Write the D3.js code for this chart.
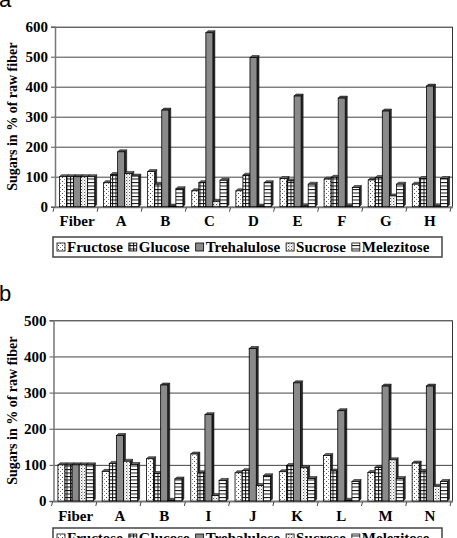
<!DOCTYPE html>
<html><head><meta charset="utf-8">
<script src="https://cdn.jsdelivr.net/npm/d3@7"></script>
<style>
html,body{margin:0;padding:0;background:#fff;}
svg{display:block;}
text{font-family:"Liberation Serif","Times New Roman",serif;font-weight:bold;fill:#000;}
</style></head>
<body>
<svg id="c" width="457" height="538"></svg>
<script>
const series = ["Fructose","Glucose","Trehalulose","Sucrose","Melezitose"];

const categoriesA = ["Fiber","A","B","C","D","E","F","G","H"];
const fructoseA    = [100, 80, 117,  53,  53,  94,  92,  89,  75];
const glucoseA     = [100,107,  75,  80, 105,  86,  98,  97,  94];
const trehaluloseA = [100,183, 322, 580, 497, 369, 362, 319, 402];
const sucroseA     = [100,111,   2,  18,   2,   3,   3,  36,   3];
const melezitoseA  = [100,102,  60,  88,  80,  75,  64,  75,  94];
const ticksA = [0,100,200,300,400,500,600];

const categoriesB = ["Fiber","A","B","I","J","K","L","M","N"];
const fructoseB    = [100, 82, 117, 130,  78,  81, 126,  79, 105];
const glucoseB     = [100,104,  76,  78,  84,  98,  83,  93,  82];
const trehaluloseB = [100,181, 321, 239, 422, 327, 250, 318, 318];
const sucroseB     = [100,110,   2,  15,  43,  92,   2, 114,  41];
const melezitoseB  = [100,101,  61,  57,  70,  62,  54,  62,  54];
const ticksB = [0,100,200,300,400,500];

const svg = d3.select("#c");
const defs = svg.append("defs");

// patterns
function pat(id,w,h,draw){
  const p = defs.append("pattern").attr("id",id).attr("patternUnits","userSpaceOnUse")
    .attr("width",w).attr("height",h);
  p.append("rect").attr("width",w).attr("height",h).attr("fill","#fff");
  draw(p);
}
pat("pFru",4,4,p=>{
  p.append("rect").attr("x",2).attr("y",1).attr("width",1).attr("height",1).attr("fill","#444");
  p.append("rect").attr("x",0).attr("y",3).attr("width",1).attr("height",1).attr("fill","#888");
});
pat("pGlu",3.5,3.5,p=>{
  p.append("rect").attr("x",0).attr("y",0).attr("width",3.5).attr("height",1).attr("fill","#111");
  p.append("rect").attr("x",0).attr("y",0).attr("width",1).attr("height",3.5).attr("fill","#111");
});
defs.append("pattern").attr("id","pTre").attr("patternUnits","userSpaceOnUse").attr("width",4).attr("height",4)
  .append("rect").attr("width",4).attr("height",4).attr("fill","#8a8a8a");
pat("pSuc",3,3,p=>{
  p.append("rect").attr("x",0).attr("y",0).attr("width",1).attr("height",1).attr("fill","#555");
  p.append("rect").attr("x",1.5).attr("y",1.5).attr("width",1).attr("height",1).attr("fill","#aaa");
  p.append("rect").attr("x",1).attr("y",0).attr("width",0.6).attr("height",3).attr("fill","#ccc");
});
pat("pMel",3,3.5,p=>{
  p.append("rect").attr("x",0).attr("y",0).attr("width",3).attr("height",1).attr("fill","#111");
});
const fills = ["url(#pFru)","url(#pGlu)","url(#pTre)","url(#pSuc)","url(#pMel)"];

function panel(cfg){
  const {cats, vals, ticks, left, right, top, zero, ymax, labelY, legendTop} = cfg;
  const g = svg.append("g");
  const y = d3.scaleLinear().domain([0,ymax]).range([zero, top]);
  const x = d3.scaleBand().domain(cats).range([left,right]).paddingInner(0.2).paddingOuter(0.1);
  const xs = d3.scaleBand().domain(series).range([0,x.bandwidth()]);
  const d = 2;

  // gridlines
  g.selectAll(".grid").data(ticks.filter(t=>t>0)).join("line")
    .attr("x1",left).attr("x2",right)
    .attr("y1",t=>y(t)+0.5).attr("y2",t=>y(t)+0.5)
    .attr("stroke",t=>t===ymax?"#222":"#444").attr("stroke-width",1);
  // right border
  g.append("line").attr("x1",right+0.5).attr("x2",right+0.5).attr("y1",y(ymax)).attr("y2",zero)
    .attr("stroke","#333").attr("stroke-width",1);

  // left axis
  const ax = g.append("g").attr("transform",`translate(${left},0)`)
    .call(d3.axisLeft(y).tickValues(ticks).tickSize(4).tickPadding(3).tickFormat(d3.format("d")));
  ax.select(".domain").attr("stroke","#777").attr("stroke-width",1.5);
  ax.selectAll(".tick line").attr("stroke","#555");
  ax.selectAll("text").style("font-size","15px").attr("fill","#000")
    .style("font-family",'"Liberation Serif",serif').style("font-weight","bold");

  // floor
  g.append("line").attr("x1",left).attr("x2",right+1).attr("y1",zero+0.5).attr("y2",zero+0.5)
    .attr("stroke","#777").attr("stroke-width",2);
  const step = x.step();
  g.selectAll(".xt").data(d3.range(cats.length+1)).join("line")
    .attr("x1",i=>left+i*step-1).attr("x2",i=>left+i*step-2)
    .attr("y1",zero+1).attr("y2",zero+5).attr("stroke","#444").attr("stroke-width",1);

  // bars
  const bars = [];
  cats.forEach((c,ci)=>{
    series.forEach((s,si)=>{
      bars.push({c, s, si, v: vals[si][ci]});
    });
  });
  const bg = g.append("g");
  bars.forEach(b=>{
    const x0 = x(b.c)+xs(b.s), w = xs.bandwidth(), yt = y(b.v), yb = zero;
    // side face
    bg.append("path")
      .attr("d",`M${x0+w},${yt}L${x0+w+d},${yt-d}L${x0+w+d},${yb-d}L${x0+w},${yb}Z`)
      .attr("fill","#2a2a2a").attr("stroke","#000").attr("stroke-width",0.5);
    // top face
    bg.append("path")
      .attr("d",`M${x0},${yt}L${x0+d},${yt-d}L${x0+w+d},${yt-d}L${x0+w},${yt}Z`)
      .attr("fill",b.si===2?"#555":"#666").attr("stroke","#000").attr("stroke-width",0.5);
    // front
    bg.append("rect").attr("x",x0).attr("y",yt).attr("width",w).attr("height",Math.max(0,yb-yt))
      .attr("fill",fills[b.si]).attr("stroke","#000").attr("stroke-width",0.8);
  });

  // category labels
  g.selectAll(".cl").data(cats).join("text")
    .attr("x",c=>x(c)+x.bandwidth()/2).attr("y",labelY)
    .attr("text-anchor","middle").style("font-size","15px").text(c=>c);

  // y title
  g.append("text").attr("transform",`translate(17,${(top+zero)/2}) rotate(-90)`)
    .attr("text-anchor","middle").style("font-size","14px").text("Sugars in % of raw fiber");

  // legend
  const lg = g.append("g");
  lg.append("rect").attr("x",53).attr("y",legendTop).attr("width",389).attr("height",20)
    .attr("fill","#fff").attr("stroke","#444").attr("stroke-width",1.5);
  let cx = 57;
  series.forEach((s,si)=>{
    lg.append("rect").attr("x",cx).attr("y",legendTop+6).attr("width",8).attr("height",8)
      .attr("fill",fills[si]).attr("stroke","#000").attr("stroke-width",0.8);
    const t = lg.append("text").attr("x",cx+10).attr("y",legendTop+15).style("font-size","15px").text(s);
    cx = cx + 10 + t.node().getComputedTextLength() + 6;
  });
}

panel({cats:categoriesA, vals:[fructoseA,glucoseA,trehaluloseA,sucroseA,melezitoseA], ticks:ticksA,
  left:55, right:452, top:26.7, zero:206.7, ymax:600, labelY:226, legendTop:237});
panel({cats:categoriesB, vals:[fructoseB,glucoseB,trehaluloseB,sucroseB,melezitoseB], ticks:ticksB,
  left:53.5, right:452, top:320.3, zero:501, ymax:500, labelY:521, legendTop:528});

// panel letters
svg.append("text").attr("x",-1).attr("y",7).style("font-family","'Liberation Sans',Arial,sans-serif")
  .style("font-weight","normal").style("font-size","22px").text("a");
svg.append("text").attr("x",-1).attr("y",301).style("font-family","'Liberation Sans',Arial,sans-serif")
  .style("font-weight","normal").style("font-size","22px").text("b");
</script>
</body></html>
